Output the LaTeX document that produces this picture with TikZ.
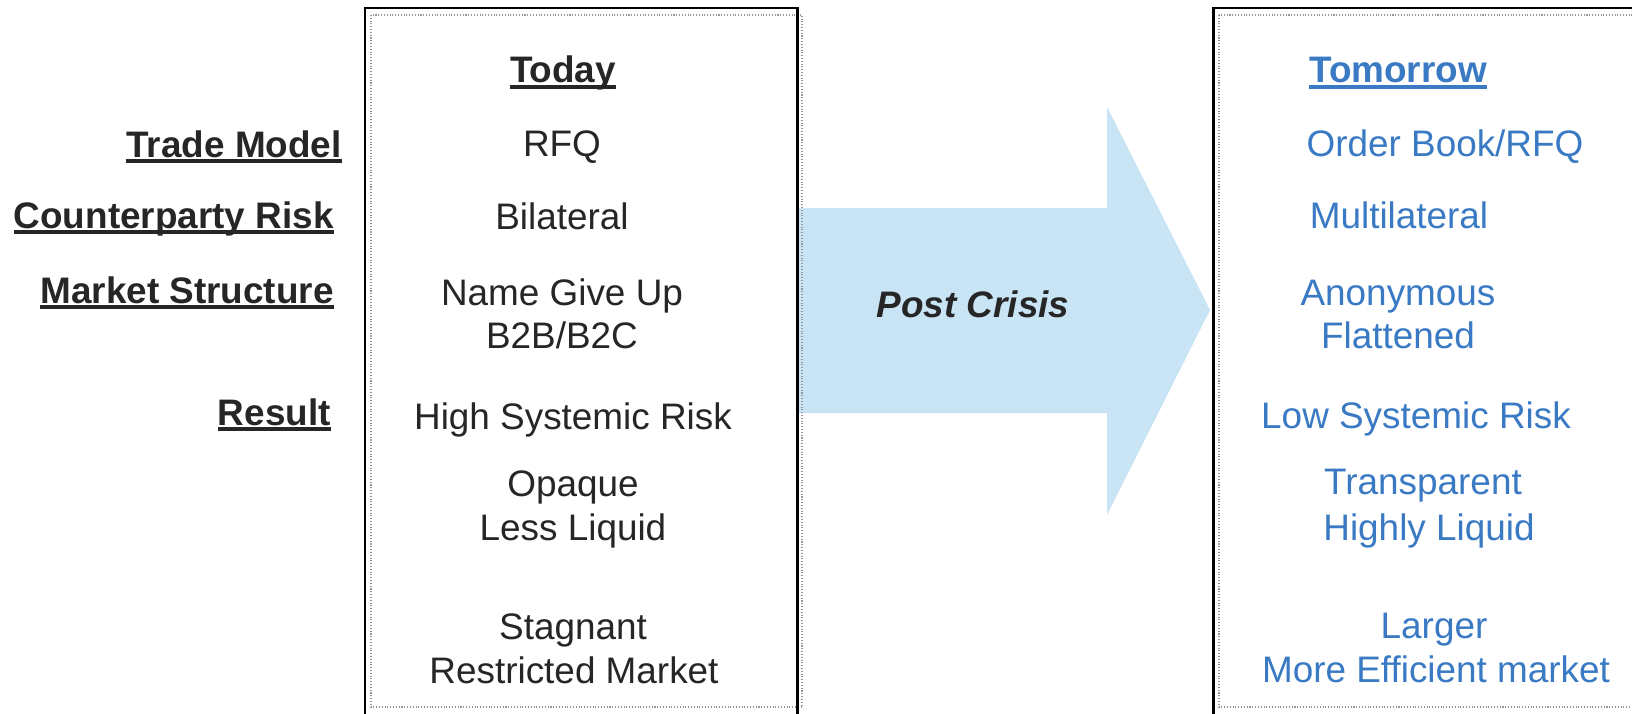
\documentclass[tikz,border=0pt]{standalone}
\usepackage{fontspec}
\setmainfont{Liberation Sans}
\definecolor{ink}{RGB}{38,38,38}
\definecolor{nextblue}{RGB}{58,122,196}
\definecolor{shaftblue}{RGB}{200,228,245}
\definecolor{framegray}{RGB}{150,150,150}
% underlined heading with a heavier rule
\newsavebox{\ulbox}
\newcommand{\ulhead}[1]{\sbox{\ulbox}{#1}\rlap{\usebox{\ulbox}}\vrule height -1.2pt depth 3.2pt width \wd\ulbox}

\begin{document}
\begin{tikzpicture}[x=0.02cm,y=-0.02cm,
  every node/.style={inner sep=0pt, font=\fontsize{21}{25}\selectfont},
  oldcell/.style={anchor=base, text=ink},
  newcell/.style={anchor=base, text=nextblue},
  rowlabel/.style={anchor=base east, text=ink, font=\fontsize{21}{25}\selectfont\bfseries}]
\useasboundingbox (0,0) rectangle (1632,713);
\fill[white] (0,0) rectangle (1632,713);
\clip (0,0) rectangle (1632,713);

% big arrow between the two columns
\fill[shaftblue] (798,208) -- (1107,208) -- (1107,107) -- (1210,310) -- (1107,515) -- (1107,413) -- (798,413) -- cycle;
\node[anchor=base, text=ink, font=\fontsize{21}{25}\selectfont\bfseries\itshape] (postcrisis) at (973,317) {Post Crisis};

% frames
\draw[framegray, line width=0.6pt, densely dotted] (371,15) rectangle (802,707);
\draw[black, line width=1.7pt] (365,8) rectangle (797,725);
\draw[framegray, line width=0.6pt, densely dotted] (1219,15) rectangle (1660,707);
\draw[black, line width=1.7pt] (1213,8) rectangle (1654,725);

% row labels
\node[rowlabel] (lbltrade) at (342,157) {\ulhead{Trade Model}};
\node[rowlabel] (lblcpty) at (334,228) {\ulhead{Counterparty Risk}};
\node[rowlabel] (lblmkt) at (334,303) {\ulhead{Market Structure}};
\node[rowlabel] (lblresult) at (331,425) {\ulhead{Result}};

% today
\node[oldcell] (today) at (563,83) {\ulhead{\bfseries Today}};
\node[oldcell] (rfq) at (562,156) {RFQ};
\node[oldcell] (bilat) at (562,229) {Bilateral};
\node[oldcell] (namegive) at (562,305) {Name Give Up};
\node[oldcell] (btob) at (562,348) {B2B/B2C};
\node[oldcell] (highrisk) at (573,429) {High Systemic Risk};
\node[oldcell] (opaque) at (573,496) {Opaque};
\node[oldcell] (lessliq) at (573,540) {Less Liquid};
\node[oldcell] (stagnant) at (573,639) {Stagnant};
\node[oldcell] (restricted) at (574,683) {Restricted Market};

% tomorrow
\node[newcell] (tomorrow) at (1398,83) {\ulhead{\bfseries Tomorrow}};
\node[newcell] (orderbook) at (1445,156) {Order Book/RFQ};
\node[newcell] (multilat) at (1399,228) {Multilateral};
\node[newcell] (anon) at (1398,305) {Anonymous};
\node[newcell] (flat) at (1398,348) {Flattened};
\node[newcell] (lowrisk) at (1416,428) {Low Systemic Risk};
\node[newcell] (transp) at (1423,494) {Transparent};
\node[newcell] (highliq) at (1429,540) {Highly Liquid};
\node[newcell] (larger) at (1434,638) {Larger};
\node[newcell] (efficient) at (1436,682) {More Efficient market};
\end{tikzpicture}
\end{document}
